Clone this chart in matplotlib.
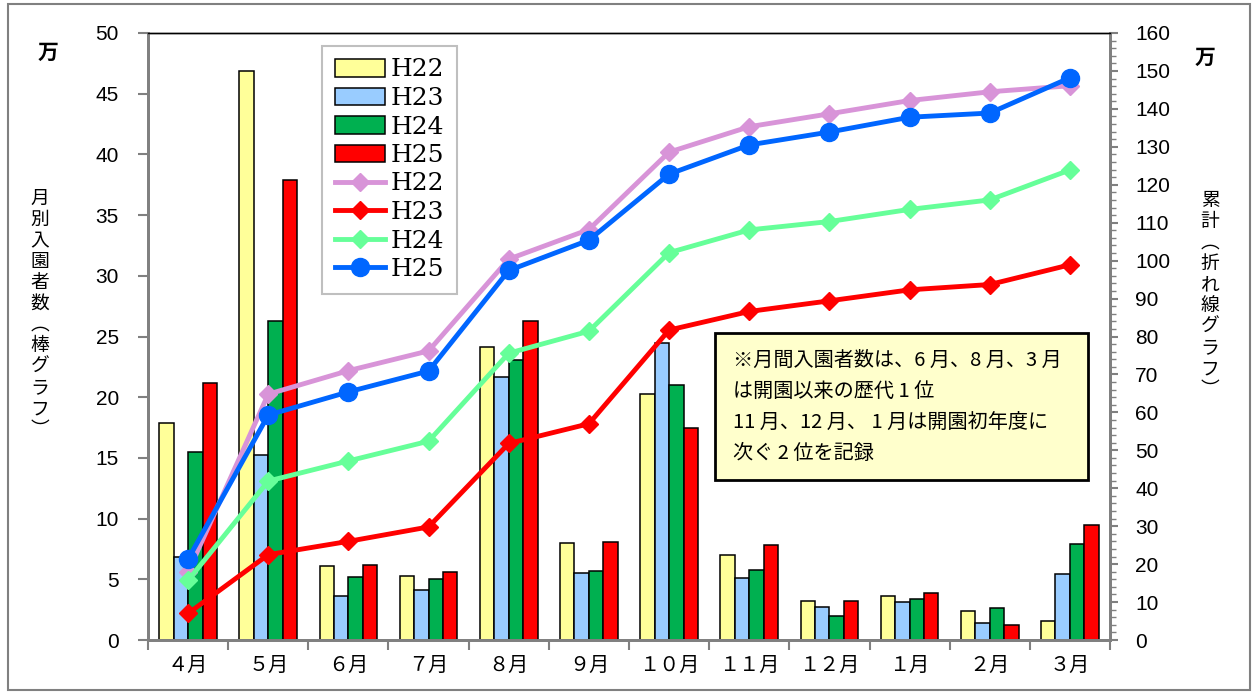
import numpy as np
import matplotlib
matplotlib.use('Agg')
import matplotlib.pyplot as plt
from matplotlib.patches import Rectangle

months = ['４月', '５月', '６月', '７月', '８月', '９月', '１０月', '１１月', '１２月', '１月', '２月', '３月']
years = ['H22', 'H23', 'H24', 'H25']

# 月別入園者数（万人）
bar_h22 = [17.9, 46.9, 6.1, 5.3, 24.1, 8.0, 20.3, 7.0, 3.2, 3.6, 2.4, 1.6]
bar_h23 = [6.8, 15.2, 3.6, 4.1, 21.7, 5.5, 24.5, 5.1, 2.7, 3.1, 1.4, 5.4]
bar_h24 = [15.5, 26.3, 5.2, 5.0, 23.1, 5.7, 21.0, 5.8, 2.0, 3.4, 2.6, 7.9]
bar_h25 = [21.2, 37.9, 6.2, 5.6, 26.3, 8.1, 17.5, 7.8, 3.2, 3.9, 1.2, 9.5]

# 累計（万人）
cum_h22 = [17.9, 64.8, 71.0, 76.2, 100.4, 108.2, 128.6, 135.3, 138.7, 142.2, 144.5, 146.1]
cum_h23 = [7.0, 22.5, 26.0, 29.8, 51.8, 57.0, 81.7, 86.6, 89.4, 92.3, 93.7, 98.9]
cum_h24 = [15.7, 41.9, 47.2, 52.4, 75.6, 81.4, 102.1, 108.1, 110.3, 113.5, 116.0, 123.9]
cum_h25 = [21.3, 59.3, 65.4, 70.9, 97.4, 105.4, 122.8, 130.5, 133.9, 137.8, 138.9, 148.2]

note = '※月間入園者数は、6 月、8 月、3 月\nは開園以来の歴代 1 位\n11 月、12 月、 1 月は開園初年度に\n次ぐ 2 位を記録'

bar_colors = ['#FFFF99', '#99CCFF', '#00B050', '#FF0000']
line_colors = ['#D894D8', '#FF0000', '#66FF99', '#0066FF']

jp = ['Noto Sans CJK JP', 'DejaVu Sans']
num = ['Liberation Sans', 'DejaVu Sans']

fig = plt.figure(figsize=(12.55, 6.99), dpi=100)
ax = fig.add_axes([148/1255, 1-640/699, (1110-148)/1255, (640-33)/699])
ax2 = ax.twinx()

x = np.arange(len(months))
w = 0.18
bars = []
for i, vals in enumerate([bar_h22, bar_h23, bar_h24, bar_h25]):
    b = ax.bar(x + (i - 1.5) * w, vals, w, color=bar_colors[i], edgecolor='black',
               linewidth=1.1, label=years[i], zorder=2)
    bars.append(b)

lines = []
for i, vals in enumerate([cum_h22, cum_h23, cum_h24, cum_h25]):
    if i == 3:
        l, = ax2.plot(x, vals, color=line_colors[i], lw=3.5, marker='o', ms=13, label=years[i], zorder=3)
    else:
        l, = ax2.plot(x, vals, color=line_colors[i], lw=3.5, marker='D', ms=9, label=years[i], zorder=3)
    lines.append(l)

ax.set_xlim(-0.5, 11.5)
ax.set_ylim(0, 50)
ax2.set_ylim(0, 160)
ax.set_yticks(np.arange(0, 51, 5))
ax2.set_yticks(np.arange(0, 161, 10))
ax2.set_yticks(np.arange(0, 161, 2), minor=True)

# 月の区切りに目盛、ラベルは中央
ax.set_xticks(np.arange(-0.5, 12, 1))
ax.set_xticklabels([])
ax.set_xticks(x, minor=True)
ax.set_xticklabels(months, minor=True, fontfamily=jp, fontsize=14.5)
ax.tick_params(axis='x', which='major', length=7, width=1.5, color='#808080', direction='out')
ax.tick_params(axis='x', which='minor', length=0, pad=11)

ax.tick_params(axis='y', length=7, width=1.5, color='#808080', pad=14, labelsize=15)
ax2.tick_params(axis='y', which='major', length=6, width=1.5, color='#808080', pad=12, labelsize=15)
ax2.tick_params(axis='y', which='minor', length=4, width=1, color='#808080')
for lab in ax.get_yticklabels() + ax2.get_yticklabels():
    lab.set_fontfamily(num)

for a in (ax, ax2):
    for side in ['left', 'right', 'bottom']:
        a.spines[side].set_color('#808080')
        a.spines[side].set_linewidth(2)
    a.spines['top'].set_color('black')
    a.spines['top'].set_linewidth(1)

# 軸ラベル（縦書き）
fig.text(40/1255, 1-314/699, '\n'.join('月別入園者数︵棒グラフ︶'), fontfamily=jp, fontsize=13.5,
         ha='center', va='center', linespacing=1.0)
fig.text(1210/1255, 1-295/699, '\n'.join('累計︵折れ線グラフ︶'), fontfamily=jp, fontsize=13.5,
         ha='center', va='center', linespacing=1.0)
fig.text(48/1255, 1-52/699, '万', fontfamily=jp, fontsize=15, fontweight='bold', ha='center', va='center')
fig.text(1205/1255, 1-57/699, '万', fontfamily=jp, fontsize=15, fontweight='bold', ha='center', va='center')

# 凡例
leg = ax2.legend(handles=bars + lines, labels=years + years, loc='upper left',
                 bbox_to_anchor=(322/1255, 1-46/699), bbox_transform=fig.transFigure,
                 prop={'family': 'DejaVu Serif', 'size': 18}, frameon=True, fancybox=False,
                 edgecolor='#BFBFBF', framealpha=1, borderpad=0.5, labelspacing=0.22,
                 handlelength=2.0, handletextpad=0.25, borderaxespad=0)
leg.get_frame().set_linewidth(1.5)
leg.set_zorder(10)

# 注記
fig.add_artist(Rectangle((715/1255, 1-480/699), (1088-715)/1255, (480-333)/699, transform=fig.transFigure,
                         facecolor='#FFFFCC', edgecolor='black', linewidth=2, zorder=9))
fig.text(733/1255, 1-407/699, note, fontfamily=jp, fontsize=14.5, ha='left', va='center',
         linespacing=1.62, zorder=12)

# 外枠
fig.add_artist(Rectangle((8/1255, 1-690/699), (1250-8)/1255, (690-4)/699, transform=fig.transFigure,
                         facecolor='none', edgecolor='#808080', linewidth=1.5))

fig.savefig('out.png', dpi=100)
